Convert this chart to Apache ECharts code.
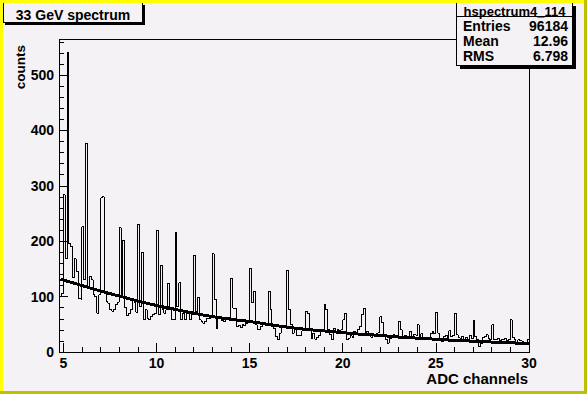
<!DOCTYPE html>
<html><head><meta charset="utf-8">
<script src="https://cdn.jsdelivr.net/npm/echarts@6/dist/echarts.min.js"></script>
<style>html,body{margin:0;padding:0;background:#f5f2f5;} #c{width:587px;height:394px;}
#c svg path, #c svg line, #c svg rect, #c svg polyline { shape-rendering: crispEdges; }</style>
</head><body><div id="c"></div>
<script>
// ---- data ----
const xMin = 4.77, xMax = 30, yMin = 0, yMax = 565;
const binStart = 4.8, binWidth = 0.1;
const counts = [
 100,106,
 284,168,540,196,190,135,168,146,96,95,
 226,130,376,115,137,130,103,100,70,103,
 278,280,109,91,88,76,74,76,86,90,
 224,100,202,80,66,70,76,95,90,72,
 231,82,180,58,76,60,58,64,68,70,
 219,67,157,76,70,76,124,76,58,58,
 215,82,125,59,70,58,70,70,58,73,
 175,73,99,58,55,52,55,61,61,64,
 177,95,43,61,60,57,55,58,62,62,
 133,79,79,46,48,44,50,47,52,56,
 150,89,109,49,41,40,46,49,48,50,
 110,76,46,42,28,22,34,45,44,48,
 148,76,49,34,43,29,29,30,38,40,
 73,70,40,25,34,23,26,30,40,40,
 86,76,40,32,23,43,37,40,38,40,
 58,70,22,25,29,27,37,35,40,46,
 67,79,32,37,34,27,32,30,34,36,
 64,53,28,22,16,24,28,31,28,30,
 55,40,27,30,28,26,37,25,31,30,
 49,25,33,24,24,22,22,33,37,33,
 72,34,22,19,28,30,25,38,28,30,
 69,31,26,24,28,22,26,23,30,24,
 56,28,22,10,16,26,28,31,24,22,
 49,22,22,25,20,23,22,24,20,22,
 58,26,22,18,22,20,19,17,17,23
];
const fitX = [4.85,5,6,7,8,9,10,11,12,13,14,15,16,17,18,19,20,21,22,23,24,25,26,27,28,29,30];
const fitY = [132,130,120,110,101,92,84,77,70,64,59,55,50,45,41,38,35,32,30,27,25,23,21,19.5,18,16.5,15.5];
const xMajorTicks = [5,10,15,20,25,30];
const xMinorTicks = [5,6,7,8,9,10,11,12,13,14,15,16,17,18,19,20,21,22,23,24,25,26,27,28,29,30];
const yMajorTicks = [0,100,200,300,400,500];
const yMinorTicks = [0,20,40,60,80,100,120,140,160,180,200,220,240,260,280,300,320,340,360,380,400,420,440,460,480,500,520,540,560];
const titleText = '33 GeV spectrum';
const xTitle = 'ADC channels';
const yTitle = 'counts';
const statsName = 'hspectrum4_114';
const statsLabels = ['Entries','Mean','RMS'];
const statsValues = ['96184','12.96','6.798'];

// ---- build series data ----
const histData = [[xMin, counts[0]]];
for (let i = 1; i < counts.length; i++) histData.push([+(binStart + i*binWidth).toFixed(4), counts[i]]);
histData.push([xMax, counts[counts.length-1]]);
const fitData = fitX.map((x,i)=>[x, fitY[i]]);

const FONT = 'Liberation Sans';
const PAD = '#f5f2f5';
const lbl = {color:'#000', fontFamily:FONT, fontWeight:'bold', fontSize:14};

function txt(x,y,text,size,align,valign,rot){
  return {type:'text', x:x, y:y, rotation:rot||0, z:101,
    style:{text:text, fill:'#000', fontFamily:FONT, fontWeight:'bold', fontSize:size,
      textAlign:align, textVerticalAlign:valign}};
}
function rect(x,y,w,h,fill,stroke,z){
  return {type:'rect', z:z, shape:{x:x,y:y,width:w,height:h},
    style:{fill:fill, stroke:stroke||null, lineWidth:stroke?1:0}};
}

const graphics = [
  // pad border
  rect(0,0,587,3,'#ffff00',null,200),
  rect(0,0,3,394,'#ffff00',null,200),
  rect(0,391,587,3,'#bfbf00',null,201),
  rect(584,0,3,394,'#bfbf00',null,201),
  // title box
  rect(5,5,140,20,'#000',null,100),
  rect(3.5,2.5,139,20,PAD,'#000',101),
  txt(73,14.5,titleText,14,'center','middle'),
  // stats box
  rect(459.5,5.5,116,63,'#000',null,100),
  rect(456.5,2.5,116,63,PAD,'#000',101),
  {type:'line', z:102, shape:{x1:456.5,y1:16.5,x2:572.5,y2:16.5}, style:{stroke:'#000', lineWidth:1}},
  txt(514.5,11,statsName,13,'center','middle'),
  txt(463,26,statsLabels[0],14,'left','middle'),
  txt(568,26,statsValues[0],14,'right','middle'),
  txt(463,41,statsLabels[1],14,'left','middle'),
  txt(568,41,statsValues[1],14,'right','middle'),
  txt(463,56,statsLabels[2],14,'left','middle'),
  txt(568,56,statsValues[2],14,'right','middle'),
  // axis titles
  txt(528,378,xTitle,15,'right','middle'),
  txt(20,45,yTitle,13.5,'right','middle',Math.PI/2)
];

const chart = echarts.init(document.getElementById('c'), null, {renderer:'svg'});
chart.setOption({
  animation:false,
  backgroundColor: PAD,
  grid:{left:59, top:39, right:58, bottom:42, show:true, borderColor:'#000', borderWidth:1, backgroundColor:'transparent'},
  xAxis:[
    {type:'value', min:xMin, max:xMax, position:'bottom',
     axisLine:{show:true, lineStyle:{color:'#000', width:1}},
     axisTick:{show:true, inside:true, length:9, customValues:xMajorTicks, lineStyle:{color:'#000', width:1}},
     axisLabel:Object.assign({show:true, margin:4, customValues:xMajorTicks}, lbl),
     splitLine:{show:false}},
    {type:'value', min:xMin, max:xMax, position:'bottom',
     axisLine:{show:false},
     axisTick:{show:true, inside:true, length:5, customValues:xMinorTicks, lineStyle:{color:'#000', width:1}},
     axisLabel:{show:false}, splitLine:{show:false}}
  ],
  yAxis:[
    {type:'value', min:yMin, max:yMax, position:'left',
     axisLine:{show:true, lineStyle:{color:'#000', width:1}},
     axisTick:{show:true, inside:true, length:9, customValues:yMajorTicks, lineStyle:{color:'#000', width:1}},
     axisLabel:Object.assign({show:true, margin:5, customValues:yMajorTicks}, lbl),
     splitLine:{show:false}},
    {type:'value', min:yMin, max:yMax, position:'left',
     axisLine:{show:false},
     axisTick:{show:true, inside:true, length:5, customValues:yMinorTicks, lineStyle:{color:'#000', width:1}},
     axisLabel:{show:false}, splitLine:{show:false}}
  ],
  series:[
    {type:'line', name:'hist', step:'end', data:histData, showSymbol:false, symbol:'none',
     xAxisIndex:0, yAxisIndex:0, lineStyle:{color:'#000', width:1}, z:3, clip:true},
    {type:'line', name:'fit', smooth:true, data:fitData, showSymbol:false, symbol:'none',
     xAxisIndex:0, yAxisIndex:0, lineStyle:{color:'#000', width:3}, z:4, clip:true}
  ],
  graphic:{elements:graphics}
});
</script></body></html>
